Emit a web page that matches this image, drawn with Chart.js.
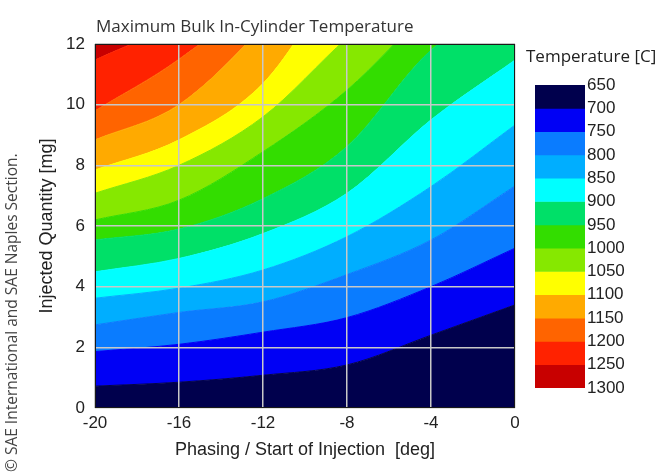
<!DOCTYPE html>
<html>
<head>
<meta charset="utf-8">
<script src="https://cdn.jsdelivr.net/npm/chart.js@4.4.1/dist/chart.umd.min.js"></script>
<style>
  body { margin: 0; background: #fff; }
  #wrap { position: relative; width: 659px; height: 475px; }
  #map { position: absolute; left: 0; top: 0; }
  #bar { position: absolute; left: 520px; top: 40px; }
</style>
</head>
<body>
<div id="wrap">
  <canvas id="map" width="659" height="475"></canvas>
  <canvas id="bar" width="139" height="365"></canvas>
</div>
<script>
// start of injection [deg] where each isotherm is sampled
var phasing = [-20, -16, -12, -8, -4, 0];

// injected quantity [mg] of each isotherm at those phasings
// (values above 12 run off the top of the map)
var t700  = [0.72, 0.85, 1.08, 1.42, 2.40, 3.40];
var t750  = [1.86, 2.10, 2.50, 2.98, 4.00, 5.27];
var t800  = [2.74, 3.15, 3.50, 4.40, 5.54, 7.32];
var t850  = [3.62, 3.95, 4.55, 5.65, 7.30, 9.33];
var t900  = [4.49, 4.93, 5.75, 7.08, 9.50, 11.47];
var t950  = [5.54, 5.90, 6.90, 8.62, 11.80, 13.5];
var t1000 = [6.20, 6.85, 8.45, 10.48, 13.2, 15.5];
var t1050 = [7.08, 8.00, 9.60, 12.2, 14.5, 17.0];
var t1100 = [7.85, 8.84, 10.70, 14.5, 17.0, 19.5];
var t1150 = [8.84, 10.0, 12.6, 16.0, 18.5, 21.0];
var t1200 = [9.80, 11.5, 13.8, 17.5, 20.0, 22.5];
var t1250 = [11.47, 12.8, 15.0, 19.0, 21.5, 24.0];

var tempLevels = [650, 700, 750, 800, 850, 900, 950, 1000, 1050, 1100, 1150, 1200, 1250, 1300];
var bandColors = [
    "#00004d", "#0000f5", "#0a7cff", "#00aeff", "#00ffff", "#00e068", "#33dd00",
    "#86e800", "#ffff00", "#ffaa00", "#ff6400", "#ff2200", "#c80000"
];

var isotherms = [t700, t750, t800, t850, t900, t950, t1000, t1050, t1100, t1150, t1200, t1250];

var fontFamily = "'Liberation Sans', Arial, sans-serif";
var tickFont = { family: fontFamily, size: 17 };
var titleFont = { family: fontFamily, size: 18 };

function toPoints(arr) {
    return phasing.map(function(x, j) { return { x: x, y: arr[j] }; });
}

// each isotherm fills down to the one below it
var datasets = isotherms.map(function(iso, i) {
    return {
        label: tempLevels[i + 1] + ' C',
        data: toPoints(iso),
        fill: i === 0 ? 'start' : '-1',
        backgroundColor: bandColors[i],
        borderColor: bandColors[i],
        borderWidth: 1,
        pointRadius: 0,
        cubicInterpolationMode: 'monotone'
    };
});
// hottest band, above the last isotherm
datasets.push({
    label: '1300 C',
    data: toPoints(t1250),
    fill: 'end',
    backgroundColor: bandColors[12],
    borderWidth: 0,
    pointRadius: 0,
    cubicInterpolationMode: 'monotone'
});

var frameAndNotes = {
    id: 'frameAndNotes',
    afterDraw: function(chart) {
        var a = chart.chartArea;
        var ctx = chart.ctx;
        ctx.save();
        ctx.strokeStyle = '#1a1a1a';
        ctx.lineWidth = 1;
        ctx.strokeRect(a.left + 0.5, a.top + 0.5, a.right - a.left - 1, a.bottom - a.top - 1);

        ctx.fillStyle = '#333';
        ctx.font = "17px 'Open Sans', sans-serif";
        ctx.textBaseline = 'middle';
        ctx.textAlign = 'left';
        ctx.fillText('Maximum Bulk In-Cylinder Temperature', a.left + 1, 27);

        ctx.fillStyle = '#444';
        ctx.font = "15.5px 'Open Sans', sans-serif";
        ctx.translate(13, 472);
        ctx.rotate(-Math.PI / 2);
        ctx.fillText('\u00a9 SAE International and SAE Naples Section.', 0, 0);
        ctx.restore();
    }
};

new Chart(document.getElementById('map').getContext('2d'), {
    type: 'line',
    data: { datasets: datasets },
    options: {
        responsive: false,
        animation: false,
        layout: { padding: { left: 32, top: 44, right: 144, bottom: 10 } },
        plugins: { legend: { display: false }, tooltip: { enabled: false } },
        scales: {
            x: {
                type: 'linear', min: -20, max: 0,
                ticks: { stepSize: 4, padding: 5, color: '#222', font: tickFont },
                grid: { color: '#c8c8c8', lineWidth: 1.5, drawTicks: false, z: 1 },
                border: { display: false },
                title: { display: true, text: 'Phasing / Start of Injection  [deg]', color: '#222', font: titleFont },
                afterFit: function(s) { s.height = 57; }
            },
            y: {
                min: 0, max: 12,
                ticks: { stepSize: 2, padding: 10, color: '#222', font: tickFont },
                grid: { color: '#c8c8c8', lineWidth: 1.5, drawTicks: false, z: 1 },
                border: { display: false },
                title: { display: true, text: 'Injected Quantity [mg]', color: '#222', font: titleFont },
                afterFit: function(s) { s.width = 63; }
            }
        }
    },
    plugins: [frameAndNotes]
});

// colour bar: one floating bar per temperature band
var barTitle = {
    id: 'barTitle',
    afterDraw: function(chart) {
        var ctx = chart.ctx;
        ctx.save();
        ctx.fillStyle = '#222';
        ctx.font = "17px 'Open Sans', sans-serif";
        ctx.textBaseline = 'middle';
        ctx.textAlign = 'left';
        ctx.fillText('Temperature [C]', chart.chartArea.left - 9, 17);
        ctx.restore();
    }
};

new Chart(document.getElementById('bar').getContext('2d'), {
    type: 'bar',
    data: {
        labels: [''],
        datasets: bandColors.map(function(c, i) {
            return {
                label: tempLevels[i] + '-' + tempLevels[i + 1],
                data: [[tempLevels[i], tempLevels[i + 1]]],
                backgroundColor: c,
                borderWidth: 0,
                barPercentage: 1,
                categoryPercentage: 1
            };
        })
    },
    options: {
        responsive: false,
        animation: false,
        layout: { padding: { left: 15, top: 45, right: 0, bottom: 17 } },
        plugins: { legend: { display: false }, tooltip: { enabled: false } },
        scales: {
            x: { stacked: true, display: false },
            y: {
                position: 'right', min: 650, max: 1300, reverse: true,
                ticks: {
                    stepSize: 50, padding: 2, autoSkip: false, color: '#222',
                    font: { family: fontFamily, size: 17, lineHeight: 1 },
                    callback: function(v) { return String(v); }
                },
                grid: { display: false, drawTicks: false },
                border: { display: false },
                afterFit: function(s) { s.width = 74; }
            }
        }
    },
    plugins: [barTitle]
});
</script>
</body>
</html>
